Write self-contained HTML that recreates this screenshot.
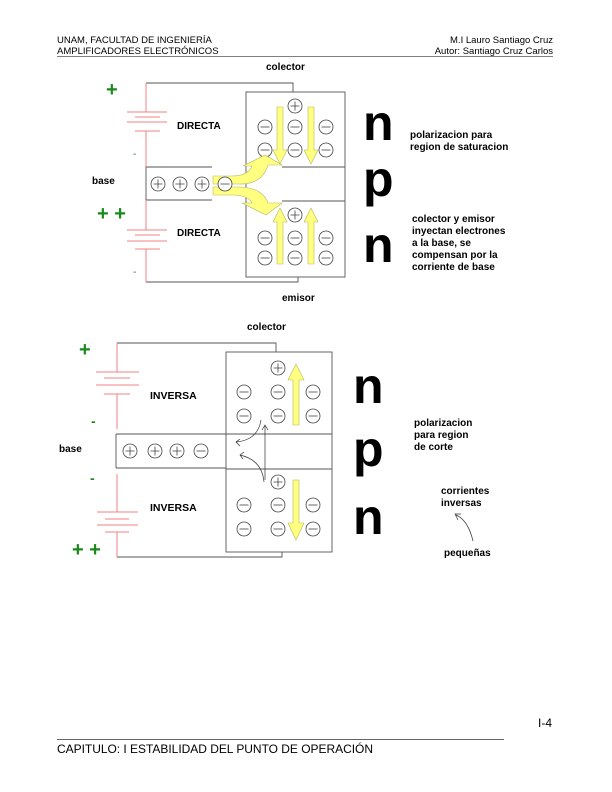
<!DOCTYPE html>
<html><head><style>
body{margin:0;background:#fff}
svg{display:block}
text{font-family:"Liberation Sans",sans-serif}
</style></head><body>
<svg width="612" height="792" viewBox="0 0 612 792" xmlns="http://www.w3.org/2000/svg">
<defs>
<g id="pl"><circle r="7" fill="#fff" stroke="#444" stroke-width="0.8"/><path d="M-4.5 0H4.5M0 -4.5V4.5" stroke="#444" stroke-width="0.8"/></g>
<g id="mi"><circle r="7" fill="#fff" stroke="#444" stroke-width="0.8"/><path d="M-4.5 0H4.5" stroke="#444" stroke-width="0.8"/></g>
</defs>
<!-- header -->
<text x="57" y="43" font-size="9.5">UNAM, FACULTAD DE INGENIERÍA</text>
<text x="57" y="54" font-size="9.5">AMPLIFICADORES ELECTRÓNICOS</text>
<text x="553" y="43" font-size="9.5" text-anchor="end">M.I Lauro Santiago Cruz</text>
<text x="553" y="54" font-size="9.5" text-anchor="end">Autor: Santiago Cruz Carlos</text>
<line x1="57" y1="56.5" x2="553" y2="56.5" stroke="#555" stroke-width="0.8"/>

<!-- TOP DIAGRAM -->
<g fill="none" stroke="#555" stroke-width="0.9">
<path d="M146 83H293V92"/>
<rect x="246" y="92" width="99" height="185"/>
<path d="M282 167H345M282 201H345"/>
<path d="M146 167H212M146 200H212M146 167V200"/>
<path d="M146 282H298V277"/>
</g>
<g stroke="#f08080" stroke-width="1">
<path d="M146 83V112M146 131V167M146 200V230M146 249V282"/>
<path d="M127 112H167M135 117H160M127 122H167M135 131H160"/>
<path d="M127 230H167M135 235H160M127 241H167M135 249H160"/>
</g>
<text x="106" y="96" font-size="20" font-weight="bold" fill="#1a8a1a">+</text>
<text x="97" y="220" font-size="20" font-weight="bold" fill="#1a8a1a">+ +</text>
<text x="133" y="157" font-size="10" fill="#1a8a1a">-</text>
<text x="133" y="275" font-size="10" fill="#1a8a1a">-</text>
<text x="177" y="129" font-size="10" font-weight="bold">DIRECTA</text>
<text x="177" y="236" font-size="10" font-weight="bold">DIRECTA</text>
<text x="92" y="184" font-size="10" font-weight="bold">base</text>
<text x="266" y="70" font-size="10" font-weight="bold">colector</text>
<text x="282" y="301" font-size="10" font-weight="bold">emisor</text>
<use href="#pl" x="158" y="184"/><use href="#pl" x="180" y="184"/><use href="#pl" x="202" y="184"/>
<use href="#pl" x="295" y="106"/>
<use href="#mi" x="265" y="127"/><use href="#mi" x="295" y="127"/><use href="#mi" x="326" y="127"/>
<use href="#mi" x="265" y="150"/><use href="#mi" x="295" y="150"/><use href="#mi" x="326" y="150"/>
<use href="#pl" x="295" y="215"/>
<use href="#mi" x="265" y="238"/><use href="#mi" x="295" y="238"/><use href="#mi" x="326" y="238"/>
<use href="#mi" x="265" y="258"/><use href="#mi" x="295" y="258"/><use href="#mi" x="326" y="258"/>
<g fill="#ffff80" stroke="#b8b860" stroke-width="0.6">
<path d="M277 107H283V150H287L280 164L273 150H277Z"/>
<path d="M308 107H314V150H318L311 164L304 150H308Z"/>
<path d="M277 264H283V222H287L280 208L273 222H277Z"/>
<path d="M308 264H314V222H318L311 208L304 222H308Z"/>
<path d="M213 176H232Q248 176 252 166H243L265 155L282 165H268Q262 185 238 184H213Z"/>
<path d="M213 187H238Q262 187 268 203H282L266 215L242 203H252Q248 195 232 195H213Z"/>
</g>
<use href="#mi" x="225" y="184"/>
<text x="363" y="140" font-size="50" font-weight="bold">n</text>
<text x="363" y="196" font-size="50" font-weight="bold">p</text>
<text x="363" y="262" font-size="50" font-weight="bold">n</text>
<text x="410" y="138" font-size="10" font-weight="bold">polarizacion para</text>
<text x="410" y="150" font-size="10" font-weight="bold">region de saturacion</text>
<text x="412" y="222" font-size="10" font-weight="bold">colector y emisor</text>
<text x="412" y="234" font-size="10" font-weight="bold">inyectan electrones</text>
<text x="412" y="246" font-size="10" font-weight="bold">a la base, se</text>
<text x="412" y="258" font-size="10" font-weight="bold">compensan por la</text>
<text x="412" y="270" font-size="10" font-weight="bold">corriente de base</text>

<!-- BOTTOM DIAGRAM -->
<g fill="none" stroke="#555" stroke-width="0.9">
<path d="M117 343H276V352"/>
<rect x="226" y="352" width="106" height="200"/>
<path d="M226 434H332M226 469H332"/>
<path d="M116 434H226M116 468H226M116 434V468"/>
<path d="M117 557H282V552"/>
</g>
<g stroke="#f08080" stroke-width="1">
<path d="M117 343V372M117 394V429M117 474V512M117 532V557"/>
<path d="M96 372H139M104 378H130M96 385H139M104 394H130"/>
<path d="M97 512H138M105 519H129M97 525H138M105 532H129"/>
</g>
<text x="79" y="356" font-size="20" font-weight="bold" fill="#1a8a1a">+</text>
<text x="72" y="556" font-size="20" font-weight="bold" fill="#1a8a1a">+ +</text>
<text x="91" y="426" font-size="14" font-weight="bold" fill="#1a8a1a">-</text>
<text x="90" y="483" font-size="14" font-weight="bold" fill="#1a8a1a">-</text>
<text x="150" y="399" font-size="10.5" font-weight="bold">INVERSA</text>
<text x="150" y="511" font-size="10.5" font-weight="bold">INVERSA</text>
<text x="59" y="452" font-size="10" font-weight="bold">base</text>
<text x="247" y="330" font-size="10" font-weight="bold">colector</text>
<use href="#pl" x="130" y="451"/><use href="#pl" x="155" y="451"/><use href="#pl" x="177" y="451"/><use href="#mi" x="201" y="451"/>
<use href="#pl" x="278" y="368"/>
<use href="#mi" x="244" y="392"/><use href="#mi" x="278" y="392"/><use href="#mi" x="313" y="392"/>
<use href="#mi" x="244" y="416"/><use href="#mi" x="278" y="416"/><use href="#mi" x="313" y="416"/>
<use href="#pl" x="278" y="482"/>
<use href="#mi" x="244" y="505"/><use href="#mi" x="278" y="505"/><use href="#mi" x="313" y="505"/>
<use href="#mi" x="244" y="529"/><use href="#mi" x="278" y="529"/><use href="#mi" x="313" y="529"/>
<g fill="#ffff80" stroke="#b8b860" stroke-width="0.6">
<path d="M293 425H299V380H304L296 364L288 380H293Z"/>
<path d="M293 480H299V523H304L296 540L288 523H293Z"/>
</g>
<g fill="none" stroke="#333" stroke-width="0.7">
<path d="M261 420Q258 440 236 442M240 439L236 442L240 446"/>
<path d="M264 482Q262 460 240 455M244 452L240 455L243 459"/>
<path d="M265 480V426M262 430L265 425L268 430"/>
<path d="M473 541Q468 520 456 515M458 520L455 514L461 514"/>
</g>
<text x="353" y="403" font-size="50" font-weight="bold">n</text>
<text x="353" y="466" font-size="50" font-weight="bold">p</text>
<text x="353" y="534" font-size="50" font-weight="bold">n</text>
<text x="414" y="426" font-size="10" font-weight="bold">polarizacion</text>
<text x="414" y="438" font-size="10" font-weight="bold">para region</text>
<text x="414" y="450" font-size="10" font-weight="bold">de corte</text>
<text x="441" y="494" font-size="10" font-weight="bold">corrientes</text>
<text x="441" y="506" font-size="10" font-weight="bold">inversas</text>
<text x="444" y="556" font-size="10" font-weight="bold">pequeñas</text>

<!-- footer -->
<text x="538" y="727" font-size="12" font-family="Liberation Serif">I-4</text>
<line x1="57" y1="739.5" x2="504" y2="739.5" stroke="#333" stroke-width="0.7"/>
<text x="57" y="753" font-size="12" textLength="316">CAPITULO: I ESTABILIDAD DEL PUNTO DE OPERACIÓN</text>
</svg>
</body></html>
